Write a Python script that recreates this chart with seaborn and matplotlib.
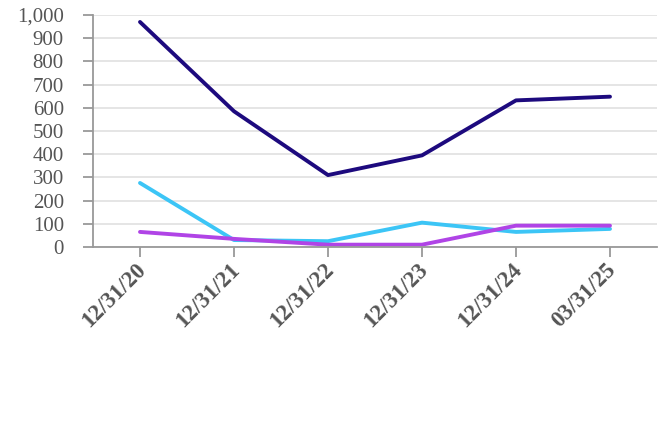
import matplotlib
matplotlib.use("Agg")
import matplotlib.pyplot as plt
import matplotlib.transforms as mtransforms
import seaborn as sns
import pandas as pd

dates = ["12/31/20", "12/31/21", "12/31/22", "12/31/23", "12/31/24", "03/31/25"]
series_navy = [970, 585, 310, 395, 632, 648]
series_cyan = [276, 30, 25, 105, 65, 78]
series_purple = [65, 35, 10, 10, 92, 92]
yticks = list(range(0, 1001, 100))

sns.set_theme(style="white")
plt.rcParams['font.family'] = ['Liberation Serif', 'DejaVu Serif']

rows = []
for name, vals in [("navy", series_navy), ("cyan", series_cyan), ("purple", series_purple)]:
    for i, (d, v) in enumerate(zip(dates, vals)):
        rows.append({"idx": i, "date": d, "value": v, "series": name})
df = pd.DataFrame(rows)

palette = {"navy": "#1d0a7e", "cyan": "#3cc5f6", "purple": "#b044e6"}

fig = plt.figure(figsize=(6.72, 4.4), dpi=100)
ax = fig.add_axes([93/672, 1-247/440, (657-93)/672, (247-15)/440])

sns.lineplot(data=df, x="idx", y="value", hue="series", palette=palette,
             hue_order=["cyan", "purple", "navy"], linewidth=2.8, ax=ax,
             legend=False, sort=False)

ax.set_xlim(-0.5, 5.5)
ax.set_ylim(0, 1000)
ax.set_yticks(yticks)
ax.set_yticklabels([f"{v:,}" for v in yticks])
ax.set_xticks(range(len(dates)))
ax.set_xticklabels(dates, rotation=45, ha="right", rotation_mode="anchor",
                   fontweight="bold")
ax.set_xlabel("")
ax.set_ylabel("")

ax.grid(axis="y", color="#e3e3e3", linewidth=1.3)
ax.set_axisbelow(True)
for s in ["top", "right"]:
    ax.spines[s].set_visible(False)
for s in ["left", "bottom"]:
    ax.spines[s].set_color("#999999")
    ax.spines[s].set_linewidth(1.3)

ax.tick_params(axis="y", direction="out", length=7, width=1.3, color="#999999",
               labelsize=15, labelcolor="#555555", pad=14, left=True)
ax.tick_params(axis="x", direction="out", length=7, width=1.3, color="#999999",
               labelsize=16.5, labelcolor="#555555", pad=2, bottom=True)

offset = mtransforms.ScaledTranslation(-5/100, 0, fig.dpi_scale_trans)
for lbl in ax.get_xticklabels():
    lbl.set_transform(lbl.get_transform() + offset)

fig.savefig("out.png", dpi=100)
